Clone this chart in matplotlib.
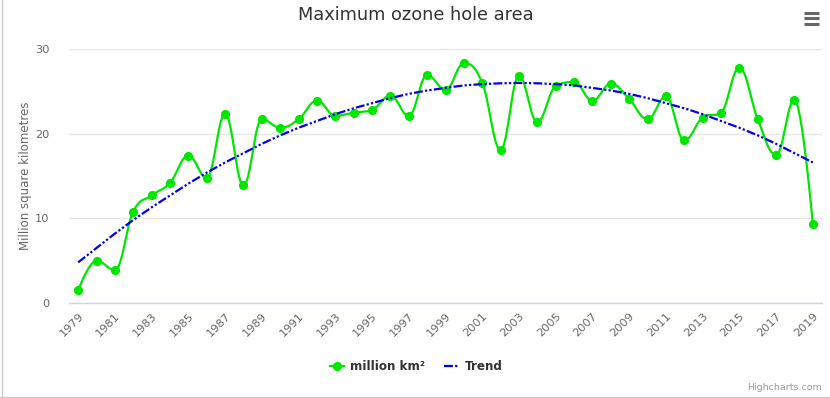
import numpy as np
import matplotlib
matplotlib.use("Agg")
import matplotlib.pyplot as plt
from matplotlib.lines import Line2D

years = list(range(1979, 2020))
area = [1.5, 5.0, 3.9, 10.8, 12.7, 14.2, 17.4, 14.8, 22.3, 13.9,
        21.7, 20.7, 21.7, 23.9, 22.1, 22.5, 22.8, 24.5, 22.1, 26.9,
        25.2, 28.3, 26.0, 18.1, 26.8, 21.4, 25.6, 26.1, 23.9, 25.9,
        24.1, 21.7, 24.4, 19.2, 21.9, 22.5, 27.8, 21.7, 17.5, 24.0, 9.3]
trend = [4.8, 6.5, 8.2, 9.8, 11.3, 12.7, 14.1, 15.4, 16.6, 17.7,
         18.8, 19.8, 20.7, 21.5, 22.3, 23.0, 23.6, 24.2, 24.7, 25.1,
         25.4, 25.7, 25.85, 25.95, 26.0, 25.95, 25.85, 25.7, 25.4, 25.1,
         24.7, 24.2, 23.6, 23.0, 22.3, 21.5, 20.7, 19.8, 18.8, 17.7, 16.6]
xtick_labels = [str(y) for y in range(1979, 2020, 2)]

title = "Maximum ozone hole area"
ylabel = "Million square kilometres"
series_name = "million km²"
trend_name = "Trend"


def hc_spline(xs, ys, n=30):
    """Highcharts-style spline through points."""
    xs = np.asarray(xs, float); ys = np.asarray(ys, float)
    N = len(xs)
    lc = [None] * N
    rc = [None] * N
    s = 1.5; d = s + 1
    for i in range(1, N - 1):
        x, y = xs[i], ys[i]
        lx, ly = xs[i - 1], ys[i - 1]
        nx, ny = xs[i + 1], ys[i + 1]
        lcx = (s * x + lx) / d; lcy = (s * y + ly) / d
        rcx = (s * x + nx) / d; rcy = (s * y + ny) / d
        corr = 0
        if rcx != lcx:
            corr = ((rcy - lcy) * (rcx - x)) / (rcx - lcx) + y - rcy
        lcy += corr; rcy += corr
        if lcy > ly and lcy > y:
            lcy = max(ly, y); rcy = 2 * y - lcy
        elif lcy < ly and lcy < y:
            lcy = min(ly, y); rcy = 2 * y - lcy
        if rcy > ny and rcy > y:
            rcy = max(ny, y); lcy = 2 * y - rcy
        elif rcy < ny and rcy < y:
            rcy = min(ny, y); lcy = 2 * y - rcy
        lc[i] = (lcx, lcy); rc[i] = (rcx, rcy)
    px, py = [], []
    t = np.linspace(0, 1, n)
    for i in range(N - 1):
        p0 = (xs[i], ys[i]); p3 = (xs[i + 1], ys[i + 1])
        p1 = rc[i] if rc[i] is not None else p0
        p2 = lc[i + 1] if lc[i + 1] is not None else p3
        bx = (1 - t) ** 3 * p0[0] + 3 * (1 - t) ** 2 * t * p1[0] + 3 * (1 - t) * t ** 2 * p2[0] + t ** 3 * p3[0]
        by = (1 - t) ** 3 * p0[1] + 3 * (1 - t) ** 2 * t * p1[1] + 3 * (1 - t) * t ** 2 * p2[1] + t ** 3 * p3[1]
        px.extend(bx); py.extend(by)
    return np.array(px), np.array(py)


W, H = 830, 398
fig = plt.figure(figsize=(W / 100, H / 100), dpi=100)
fig.patch.set_facecolor("white")

left, right, top, bottom = 69, 822, 49, 303
ax = fig.add_axes([left / W, 1 - bottom / H, (right - left) / W, (bottom - top) / H])

green = "#00e600"
blue = "#0000ee"
dash = (4, 1, 1, 1, 1, 1)

sx, sy = hc_spline(years, area)
ax.plot(sx, sy, color=green, lw=1.6, zorder=3, solid_capstyle="round")
ax.plot(years, area, "o", color=green, ms=6.6, zorder=4, markeredgewidth=0)
ax.plot(years, trend, color=blue, lw=1.6, dashes=dash, zorder=5)

ax.set_xlim(1978.5, 2019.5)
ax.set_ylim(0, 30)
ax.set_yticks([0, 10, 20, 30])
ax.set_xticks(list(range(1979, 2020, 2)))
ax.set_xticklabels(xtick_labels, rotation=45, ha="right", rotation_mode="anchor",
                   color="#666666", fontsize=8.2)
ax.tick_params(axis="x", length=0, pad=6)
ax.tick_params(axis="y", length=0, pad=14, labelcolor="#666666", labelsize=8.2)
ax.grid(axis="y", color="#e6e6e6", lw=1)
ax.set_axisbelow(True)
for sp in ["top", "right", "left"]:
    ax.spines[sp].set_visible(False)
ax.spines["bottom"].set_color("#ccd6eb")
ax.spines["bottom"].set_linewidth(1)
ax.spines["bottom"].set_zorder(1)

fig.text(25 / W, 1 - 176 / H, ylabel, rotation=90, ha="center", va="center",
         color="#666666", fontsize=8.5)

fig.text(416 / W, 1 - 15 / H, title, ha="center", va="center",
         color="#333333", fontsize=12.8)

# legend
handles = [Line2D([0], [0], color=green, lw=1.6, marker="o", ms=6.6, markeredgewidth=0),
           Line2D([0], [0], color=blue, lw=1.6, dashes=dash)]
leg = fig.legend(handles, [series_name, trend_name], loc="center",
                 bbox_to_anchor=(416 / W, 1 - 367 / H), ncol=2, frameon=False,
                 prop={"weight": "bold", "size": 8.6}, handlelength=1.2, columnspacing=1.6,
                 handletextpad=0.5)
for t in leg.get_texts():
    t.set_color("#333333")

fig.text(822 / W, 1 - 388 / H, "Highcharts.com", ha="right", va="center",
         color="#999999", fontsize=6.8)

# hamburger menu icon
for yy in (13.3, 18.4, 23.5):
    fig.add_artist(Line2D([803.5 / W, 818.5 / W], [1 - yy / H, 1 - yy / H],
                          color="#666666", lw=2.2, solid_capstyle="butt"))

# chart border (left and bottom visible)
fig.add_artist(Line2D([1.5 / W, 1.5 / W], [0, 1], color="#cccccc", lw=1))
fig.add_artist(Line2D([0, 1], [1.5 / H, 1.5 / H], color="#cccccc", lw=1))

fig.savefig("out.png", dpi=100)
